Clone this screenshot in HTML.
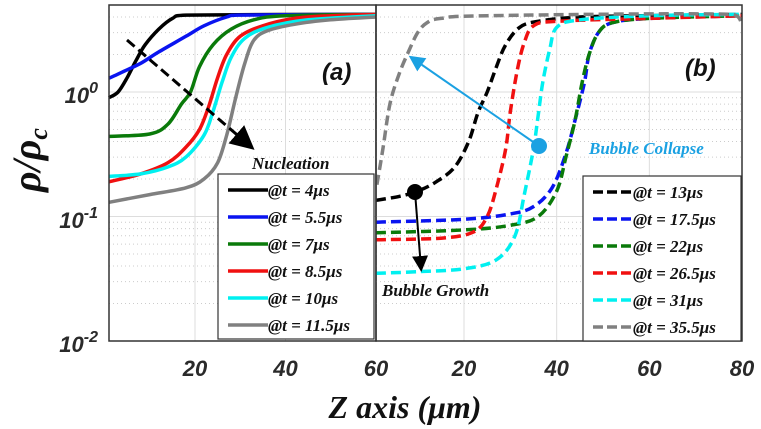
<!DOCTYPE html>
<html><head><meta charset="utf-8"><style>
html,body{margin:0;padding:0;background:#fff;width:761px;height:429px;overflow:hidden}
svg{display:block}
.tk{font:bold italic 22px "Liberation Sans",sans-serif;fill:#2a2a2a}
.lg{font:bold italic 17px "Liberation Serif",serif;fill:#111}
</style></head><body>
<svg id="chart" width="761" height="429"></svg>
<script>
const leftLabels=["@t = 4μs","@t = 5.5μs","@t = 7μs","@t = 8.5μs","@t = 10μs","@t = 11.5μs"];
const leftColors=["#000","#0a14f0","#0a7a0a","#f01010","#00f0f0","#808080"];
const leftX=[
[1,3,5,7,9,12,15,18,60],
[1,4,8,12,18,22,27,30,60],
[1,10,14,17,19,21,24,28,33,40,60],
[1,8,14,18,21,23,25,27,30,35,42,50,60],
[1,8,14,18,22,24,26,28,31,36,45,60],
[1,10,18,22,25,27,29,31,33,36,42,50,60]];
const leftY=[
[0.9,1.0,1.3,1.8,2.4,3.2,3.9,4.15,4.2],
[1.29,1.45,1.7,2.1,2.8,3.4,4.0,4.15,4.2],
[0.44,0.46,0.55,0.8,1.0,1.6,2.4,3.2,3.8,4.1,4.2],
[0.19,0.22,0.27,0.36,0.5,0.76,1.3,2.0,2.8,3.4,3.9,4.1,4.2],
[0.21,0.22,0.25,0.3,0.45,0.7,1.2,1.9,2.7,3.3,3.8,4.1],
[0.13,0.15,0.17,0.2,0.27,0.45,0.9,1.7,2.6,3.1,3.5,3.8,4.0]];
const rightLabels=["@t = 13μs","@t = 17.5μs","@t = 22μs","@t = 26.5μs","@t = 31μs","@t = 35.5μs"];
const rightColors=["#000","#0a14f0","#0a7a0a","#f01010","#00f0f0","#808080"];
const rightX=[
[1,6,10,14,18,21,23,25,27,29,32,36,45,60,80],
[1,20,30,35,39,42,44,46,47,49,52,60,80],
[1,20,30,36,40,42,44,45.5,47,49,52,60,80],
[1,15,22,25,27,29,30,31.5,33,35,40,60,80],
[1,10,20,27,31,33,35,36,37,38.5,40,45,60,80],
[1.2,2.5,4,6,8,10,12,15,25,78,80]];
const rightY=[
[0.135,0.145,0.16,0.19,0.25,0.4,0.68,1.0,1.6,2.4,3.3,3.7,4.0,4.1,4.2],
[0.09,0.095,0.105,0.12,0.17,0.32,0.6,1.2,2.0,3.0,3.6,3.9,4.1],
[0.074,0.078,0.085,0.1,0.16,0.3,0.6,1.2,2.0,3.0,3.6,3.9,4.1],
[0.065,0.067,0.075,0.1,0.17,0.35,0.7,1.5,2.5,3.4,3.7,3.9,4.1],
[0.035,0.036,0.038,0.045,0.07,0.15,0.35,0.65,1.2,2.2,3.3,3.8,4.1,4.2],
[0.18,0.35,0.8,1.4,2.1,3.0,3.6,3.9,4.1,4.2,3.4]];
const leftTicks=[20,40,60], rightTicks=[20,40,60,80];
const NS="http://www.w3.org/2000/svg";
const svg=document.getElementById('chart');
function mk(t,a,p){const e=document.createElementNS(NS,t);for(const k in a)e.setAttribute(k,a[k]);(p||svg).appendChild(e);return e;}
const yTop=5,yBot=341;
function ys(v){return 92-124.5*Math.log10(v);}
const L={x0:109,x1:376,d0:1,d1:60}, R={x0:376,x1:742,d0:1,d1:80};
function xs(P,v){return P.x0+(v-P.d0)/(P.d1-P.d0)*(P.x1-P.x0);}
function smooth(p){
  let d='M'+p[0][0].toFixed(1)+','+p[0][1].toFixed(1);
  for(let i=0;i<p.length-1;i++){
    const p0=p[i-1]||p[i],p1=p[i],p2=p[i+1],p3=p[i+2]||p2;
    const c1=[p1[0]+(p2[0]-p0[0])/6,p1[1]+(p2[1]-p0[1])/6];
    const c2=[p2[0]-(p3[0]-p1[0])/6,p2[1]-(p3[1]-p1[1])/6];
    c1[0]=Math.min(Math.max(c1[0],p1[0]),p2[0]);c2[0]=Math.min(Math.max(c2[0],p1[0]),p2[0]);
    d+=' C'+c1.map(v=>v.toFixed(1))+' '+c2.map(v=>v.toFixed(1))+' '+p2.map(v=>v.toFixed(1));
  }
  return d;
}
function panel(P,name,ticks,xsArr,ysArr,cols,dash){
  const g=mk('g',{});  
  for(let d=-2;d<=0;d++)for(let m=2;m<=9;m++){const y=ys(m*Math.pow(10,d));if(y<yTop)continue;
    mk('line',{x1:P.x0,x2:P.x1,y1:y,y2:y,stroke:'#ccc','stroke-width':1,'stroke-dasharray':'1 3'},g);}
  [1,0.1].forEach(v=>mk('line',{x1:P.x0,x2:P.x1,y1:ys(v),y2:ys(v),stroke:'#ddd','stroke-width':1},g));
  ticks.forEach(t=>{const x=xs(P,t);mk('line',{x1:x,x2:x,y1:yTop,y2:yBot,stroke:'#ddd'},g);
    const tx=mk('text',{x:x,y:376,'text-anchor':'middle',class:'tk'},g);tx.textContent=t;
    });
  xsArr.forEach((xa,i)=>{const pts=xa.map((x,j)=>[xs(P,x),ys(ysArr[i][j])]);
    const a={d:smooth(pts),fill:'none',stroke:cols[i],'stroke-width':3.5,'stroke-linejoin':'round'};
    if(dash)a['stroke-dasharray']='10 5';
    const pl=mk('path',a,g);});
  mk('rect',{x:P.x0,y:yTop,width:P.x1-P.x0,height:yBot-yTop,fill:'none',stroke:'#333','stroke-width':1.5},g);
  return g;
}
panel(L,'panel-a',leftTicks,leftX,leftY,leftColors,false);
panel(R,'panel-b',rightTicks,rightX,rightY,rightColors,true);
function legend(x,y,w,labels,cols,dash,name){
  const g=mk('g',{});
  mk('rect',{x:x,y:y,width:w,height:165,fill:'#fff',stroke:'#333','stroke-width':1.2},g);
  labels.forEach((l,i)=>{const yy=y+16+i*27;
    const a={x1:x+10,x2:x+50,y1:yy,y2:yy,stroke:cols[i],'stroke-width':3.5};if(dash)a['stroke-dasharray']='10 4';
    mk('line',a,g);const t=mk('text',{x:x+50,y:yy+6,class:'lg'},g);t.textContent=l;
    });
}
legend(218,174,156,leftLabels,leftColors,false,'legend-a');
legend(583,176,158,rightLabels,rightColors,true,'legend-b');
</script>
<svg width="761" height="429" style="position:absolute;left:0;top:0">
<defs><marker id="ah" markerWidth="8" markerHeight="8" refX="6" refY="4" orient="auto"><path d="M0,0 L8,4 L0,8z" fill="#000"/></marker>
<marker id="ab" markerWidth="8" markerHeight="8" refX="6" refY="4" orient="auto"><path d="M0,0 L8,4 L0,8z" fill="#1ba1e2"/></marker></defs>
<g font-family="Liberation Sans,sans-serif" font-weight="bold" font-style="italic" font-size="22" fill="#2a2a2a">
<text x="98" y="103" text-anchor="end">10<tspan dy="-10" font-size="16">0</tspan></text>
<text x="98" y="228" text-anchor="end">10<tspan dy="-10" font-size="16">-1</tspan></text>
<text x="98" y="352" text-anchor="end">10<tspan dy="-10" font-size="16">-2</tspan></text>
</g>
<text transform="translate(40,160) rotate(-90)" text-anchor="middle" font-family="Liberation Serif,serif" font-weight="bold" font-style="italic" font-size="40" fill="#111">ρ/ρ<tspan font-size="26" dy="7">c</tspan></text>
<text x="405" y="418" text-anchor="middle" font-family="Liberation Serif,serif" font-weight="bold" font-style="italic" font-size="32" fill="#111">Z axis (μm)</text>
<text x="322" y="80" font-family="Liberation Sans,sans-serif" font-weight="bold" font-style="italic" font-size="24" fill="#111">(a)</text>
<text x="685" y="76" font-family="Liberation Sans,sans-serif" font-weight="bold" font-style="italic" font-size="24" fill="#111">(b)</text>
<line x1="127" y1="40" x2="250" y2="146" stroke="#000" stroke-width="3" stroke-dasharray="10 5" marker-end="url(#ah)"/>
<text x="252" y="169" font-family="Liberation Serif,serif" font-weight="bold" font-style="italic" font-size="17" fill="#111">Nucleation</text>
<line x1="539" y1="146" x2="412" y2="58" stroke="#1ba1e2" stroke-width="2" marker-end="url(#ab)"/>
<circle cx="539" cy="146" r="8" fill="#1ba1e2"/>
<text x="589" y="154" font-family="Liberation Serif,serif" font-weight="bold" font-style="italic" font-size="17" fill="#1ba1e2">Bubble Collapse</text>
<line x1="415" y1="192" x2="421" y2="268" stroke="#000" stroke-width="2" marker-end="url(#ah)"/>
<circle cx="415" cy="192" r="8" fill="#000"/>
<text x="382" y="296" font-family="Liberation Serif,serif" font-weight="bold" font-style="italic" font-size="17" fill="#111">Bubble Growth</text>
</svg>
</body></html>
